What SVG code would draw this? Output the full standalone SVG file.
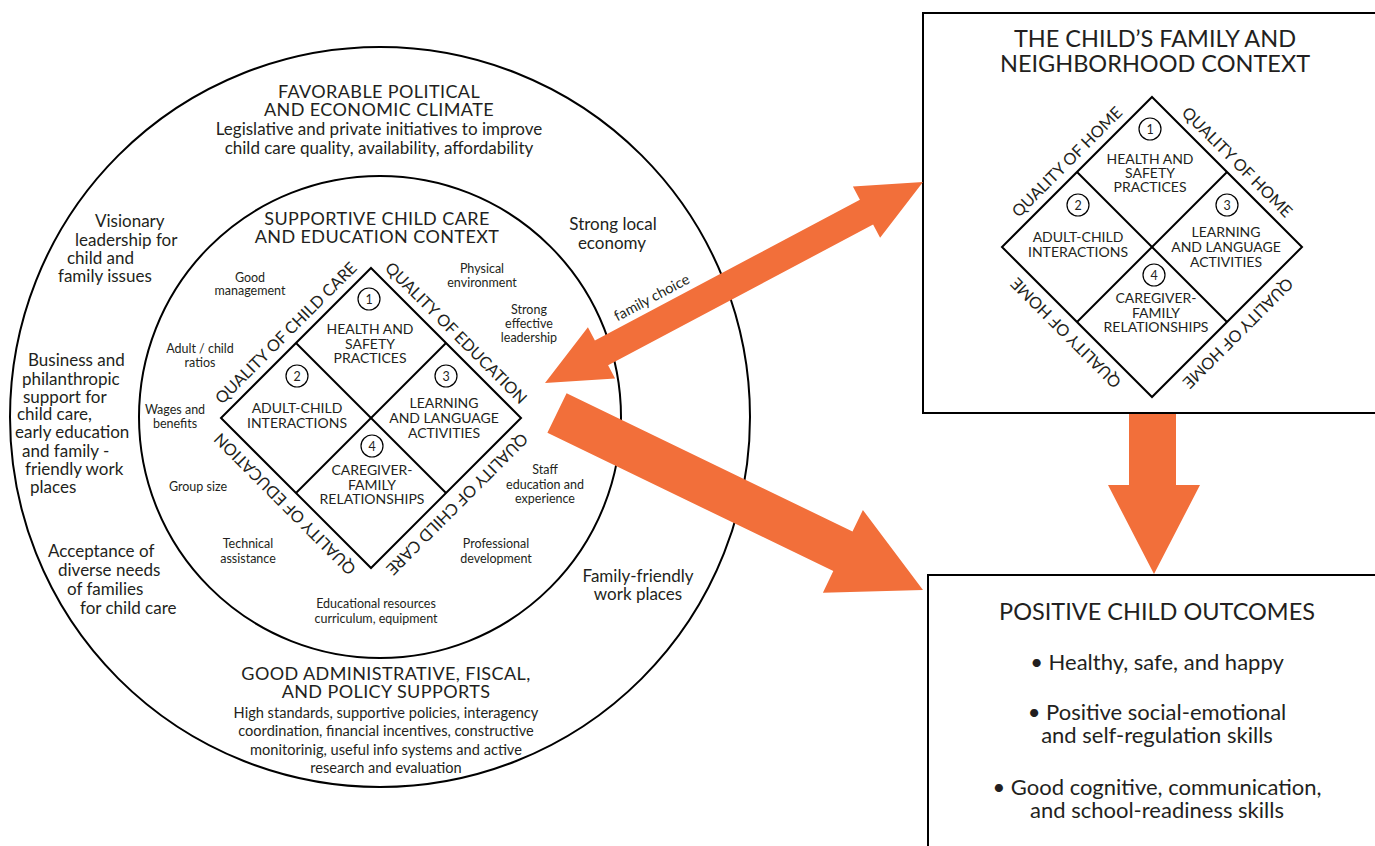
<svg xmlns="http://www.w3.org/2000/svg" width="1375" height="846" viewBox="0 0 1375 846">
<style>
text{font-family:Lato,"Open Sans","Liberation Sans",sans-serif;fill:#231f20;text-anchor:middle}
.ring{fill:none;stroke:#000;stroke-width:2}
.dia{fill:none;stroke:#000;stroke-width:2}
.num{fill:none;stroke:#000;stroke-width:1.2}
.nt{font-size:12.5px}
.q{font-size:14px}
.side{font-size:16.3px}
.sm{font-size:12.5px}
.rt{font-size:17px;text-anchor:start}
.hd{font-size:18px;letter-spacing:0.4px}
.sub{font-size:17px}
.ad{font-size:14.6px}
.box{fill:none;stroke:#000;stroke-width:2}
.arrow{fill:#f26f3a;stroke:none}
.bt{font-size:23.5px}
.bl{font-size:22px}
</style>
<rect width="1375" height="846" fill="#fff"/>

<g id="outer-circle">
<circle class="ring" cx="380" cy="417" r="370"/>
<text class="hd" x="379" y="98">FAVORABLE POLITICAL</text>
<text class="hd" x="379" y="116">AND ECONOMIC CLIMATE</text>
<text class="sub" x="379" y="135">Legislative and private initiatives to improve</text>
<text class="sub" x="379" y="154">child care quality, availability, affordability</text>
<text class="rt" x="95" y="227">Visionary</text>
<text class="rt" x="75" y="246">leadership for</text>
<text class="rt" x="67" y="264">child and</text>
<text class="rt" x="58" y="282">family issues</text>
<text class="rt" x="28" y="366">Business and</text>
<text class="rt" x="22" y="385">philanthropic</text>
<text class="rt" x="23" y="403">support for</text>
<text class="rt" x="17" y="420">child care,</text>
<text class="rt" x="15" y="438">early education</text>
<text class="rt" x="22" y="457">and family -</text>
<text class="rt" x="25" y="475">friendly work</text>
<text class="rt" x="30" y="493">places</text>
<text class="rt" x="48" y="557">Acceptance of</text>
<text class="rt" x="58" y="576">diverse needs</text>
<text class="rt" x="67" y="595">of families</text>
<text class="rt" x="80" y="614">for child care</text>
<text class="sub" x="613" y="230">Strong local</text>
<text class="sub" x="612" y="249">economy</text>
<text class="sub" x="638" y="582">Family-friendly</text>
<text class="sub" x="638" y="600">work places</text>
<text class="hd" x="386" y="680">GOOD ADMINISTRATIVE, FISCAL,</text>
<text class="hd" x="386" y="698">AND POLICY SUPPORTS</text>
<text class="ad" x="386" y="718">High standards, supportive policies, interagency</text>
<text class="ad" x="386" y="736">coordination, financial incentives, constructive</text>
<text class="ad" x="386" y="755">monitorinig, useful info systems and active</text>
<text class="ad" x="386" y="773">research and evaluation</text>
</g>

<g id="inner-circle">
<circle class="ring" cx="380" cy="417" r="241"/>
<text class="hd" x="377" y="225">SUPPORTIVE CHILD CARE</text>
<text class="hd" x="377" y="243">AND EDUCATION CONTEXT</text>
<text class="sm" x="250" y="282">Good</text>
<text class="sm" x="250" y="295">management</text>
<text class="sm" x="482" y="273">Physical</text>
<text class="sm" x="482" y="287">environment</text>
<text class="sm" x="529" y="314">Strong</text>
<text class="sm" x="529" y="328">effective</text>
<text class="sm" x="529" y="342">leadership</text>
<text class="sm" x="200" y="353">Adult / child</text>
<text class="sm" x="200" y="367">ratios</text>
<text class="sm" x="175" y="414">Wages and</text>
<text class="sm" x="175" y="428">benefits</text>
<text class="sm" x="198" y="491">Group size</text>
<text class="sm" x="248" y="548">Technical</text>
<text class="sm" x="248" y="563">assistance</text>
<text class="sm" x="545" y="474">Staff</text>
<text class="sm" x="545" y="489">education and</text>
<text class="sm" x="545" y="503">experience</text>
<text class="sm" x="496" y="548">Professional</text>
<text class="sm" x="496" y="563">development</text>
<text class="sm" x="376" y="608">Educational resources</text>
<text class="sm" x="376" y="623">curriculum, equipment</text>
</g>

<g id="care-diamond" transform="translate(371,418)">
<polygon class="dia" points="0,-150 150,0 0,150 -150,0"/>
<line class="dia" x1="-75" y1="-75" x2="75" y2="75"/>
<line class="dia" x1="75" y1="-75" x2="-75" y2="75"/>
<circle class="num" cx="-2" cy="-119" r="11"/>
<circle class="num" cx="-74" cy="-42" r="11"/>
<circle class="num" cx="75" cy="-42" r="11"/>
<circle class="num" cx="1" cy="28" r="11"/>
<text class="nt" x="-2" y="-114.5">1</text>
<text class="nt" x="-74" y="-37.5">2</text>
<text class="nt" x="75" y="-37.5">3</text>
<text class="nt" x="1" y="32.5">4</text>
<text class="q" x="-1" y="-84">HEALTH AND</text>
<text class="q" x="-1" y="-69.5">SAFETY</text>
<text class="q" x="-1" y="-55">PRACTICES</text>
<text class="q" x="-74" y="-5">ADULT-CHILD</text>
<text class="q" x="-74" y="10">INTERACTIONS</text>
<text class="q" x="73" y="-10">LEARNING</text>
<text class="q" x="73" y="5">AND LANGUAGE</text>
<text class="q" x="73" y="19.5">ACTIVITIES</text>
<text class="q" x="1" y="57">CAREGIVER-</text>
<text class="q" x="1" y="71.5">FAMILY</text>
<text class="q" x="1" y="86">RELATIONSHIPS</text>
<text class="side" transform="translate(-81,-81) rotate(-45)">QUALITY OF CHILD CARE</text>
<text class="side" transform="translate(81,-81) rotate(45)">QUALITY OF EDUCATION</text>
<text class="side" transform="translate(-82,82) rotate(225)">QUALITY OF EDUCATION</text>
<text class="side" transform="translate(82,82) rotate(135)">QUALITY OF CHILD CARE</text>
</g>

<g id="family-box">
<rect class="box" x="923" y="13" width="460" height="400"/>
<text class="bt" x="1155" y="47">THE CHILD’S FAMILY AND</text>
<text class="bt" x="1155" y="72">NEIGHBORHOOD CONTEXT</text>
</g>

<g id="home-diamond" transform="translate(1152,247)">
<polygon class="dia" points="0,-150 150,0 0,150 -150,0"/>
<line class="dia" x1="-75" y1="-75" x2="75" y2="75"/>
<line class="dia" x1="75" y1="-75" x2="-75" y2="75"/>
<circle class="num" cx="-2" cy="-118" r="11"/>
<circle class="num" cx="-74" cy="-42" r="11"/>
<circle class="num" cx="75" cy="-42" r="11"/>
<circle class="num" cx="2" cy="28" r="11"/>
<text class="nt" x="-2" y="-113.5">1</text>
<text class="nt" x="-74" y="-37.5">2</text>
<text class="nt" x="75" y="-37.5">3</text>
<text class="nt" x="2" y="32.5">4</text>
<text class="q" x="-2" y="-83">HEALTH AND</text>
<text class="q" x="-2" y="-69">SAFETY</text>
<text class="q" x="-2" y="-55">PRACTICES</text>
<text class="q" x="-74" y="-5">ADULT-CHILD</text>
<text class="q" x="-74" y="10">INTERACTIONS</text>
<text class="q" x="74" y="-10">LEARNING</text>
<text class="q" x="74" y="5">AND LANGUAGE</text>
<text class="q" x="74" y="20">ACTIVITIES</text>
<text class="q" x="4" y="56">CAREGIVER-</text>
<text class="q" x="4" y="71">FAMILY</text>
<text class="q" x="4" y="85">RELATIONSHIPS</text>
<text class="side" transform="translate(-81,-81) rotate(-45)">QUALITY OF HOME</text>
<text class="side" transform="translate(81,-81) rotate(45)">QUALITY OF HOME</text>
<text class="side" transform="translate(-82,82) rotate(225)">QUALITY OF HOME</text>
<text class="side" transform="translate(82,82) rotate(135)">QUALITY OF HOME</text>
</g>

<g id="outcomes-box">
<rect class="box" x="928" y="575" width="460" height="290"/>
<text class="bt" x="1157" y="620">POSITIVE CHILD OUTCOMES</text>
<text class="bl" x="1157" y="670">• Healthy, safe, and happy</text>
<text class="bl" x="1157" y="720">• Positive social-emotional</text>
<text class="bl" x="1157" y="743">and self-regulation skills</text>
<text class="bl" x="1157" y="795">• Good cognitive, communication,</text>
<text class="bl" x="1157" y="818">and school-readiness skills</text>
</g>

<g id="connectors">
<polygon class="arrow" points="545,383 587.9,327.3 594.9,340.5 859.9,199.7 852.9,186.5 923,182 880.1,237.7 873.1,224.5 608.1,365.3 615.1,378.5"/>
<polygon class="arrow" points="566.6,393.2 852.5,531.5 862.9,509.9 923,590 822.9,592.7 833.3,571.1 547.4,432.8"/>
<polygon class="arrow" points="1129,414 1176,414 1176,485 1200,485 1154,574 1108,485 1129,485"/>
<text style="font-size:14.5px" transform="translate(654,302) rotate(-28)">family choice</text>
</g>
</svg>
